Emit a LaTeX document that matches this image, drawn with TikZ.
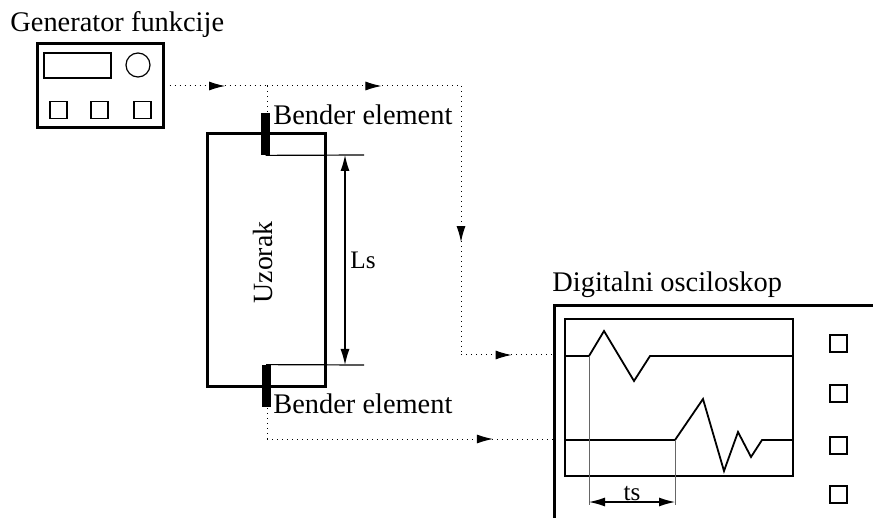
\documentclass[tikz,border=0pt]{standalone}
\usepackage{fontspec}
\setmainfont{Liberation Serif}
\usetikzlibrary{arrows.meta,decorations.markings}

\tikzset{
    label/.style={anchor=base west, inner sep=0pt, font=\fontsize{14.2}{16}\selectfont},
    small/.style={label, font=\fontsize{12.6}{14}\selectfont},
    box/.style={draw, line width=1.5pt, inner sep=0pt, minimum width=#1},
    part/.style={draw, line width=0.6pt, inner sep=0pt},
    btn/.style={part, minimum width=8.5pt, minimum height=8.5pt},
    bender/.style={fill=black, inner sep=0pt, minimum width=4.5pt, minimum height=21pt},
    signal/.style={dotted, line width=0.5pt},
    flow/.style={postaction={decorate}, decoration={markings,
        mark=at position #1 with {\arrow[solid]{Latex[length=8pt,width=4.5pt]}}}},
    dim/.style={line width=0.6pt, {Latex[length=8pt,width=4.5pt]}-{Latex[length=8pt,width=4.5pt]}},
    trace/.style={line width=0.9pt},
    guide/.style={line width=0.4pt, black!60},
}

\begin{document}
\begin{tikzpicture}[x=0.5pt,y=-0.5pt]
    \useasboundingbox (0,0) rectangle (873,518);
    % Nodes
    \node[label] (gentext) at (10,32) {Generator funkcije};
    \node[box=63pt, minimum height=42pt] (generator) at (100,86) {};
    \node[part, minimum width=33.5pt, minimum height=12.5pt] (display) at (77.5,65.5) {};
    \node[part, circle, minimum size=12pt] (knob) at (138,65) {};
    \foreach \x [count=\i] in {58.5,99.5,142.5} {
        \node[btn] (genbtn\i) at (\x,110) {};
    }
    \node[box=59pt, minimum height=126pt] (sample) at (266,260) {};
    \node[rotate=90, anchor=base, inner sep=0pt, font=\fontsize{13.9}{16}\selectfont] (sampletext) at (272.5,262.5) {Uzorak};
    \node[bender] (bendertop) at (265.5,134) {};
    \node[bender] (benderbot) at (266,386) {};
    \node[label] (toptext) at (273,125) {Bender element};
    \node[label] (bottext) at (273,413) {Bender element};
    \node[small] (lstext) at (350,269) {Ls};
    \node[label] (scopetext) at (552,292) {Digitalni osciloskop};
    \node[part, minimum width=114pt, minimum height=78.5pt] (screen) at (679,397.5) {};
    \foreach \y [count=\i] in {343.5,393.5,445.5,494.5} {
        \node[btn] (scopebtn\i) at (838.5,\y) {};
    }
    \node[small, anchor=base] (tstext) at (632,500) {ts};
    % Coordinates
    \coordinate (split) at (267,86);
    \coordinate (corner) at (461,86);
    \coordinate (scopein) at (553,355);
    \coordinate (scopebot) at (553,439);
    \coordinate (start) at (589,356);
    \coordinate (arrival) at (675,440);
    % Scope casing, cut off by the page
    \draw[line width=1.5pt] (554,518) -- (554,306) -- (873,306);
    % Signal lines
    \draw[signal, flow=0.57] ([xshift=2.5pt]generator.east) -- (split);
    \draw[signal, flow=0.59] (split) -- (corner);
    \draw[signal] (split) -- (split |- bendertop.north);
    \draw[signal, flow=0.58] (corner) -- (corner |- scopein);
    \draw[signal, flow=0.55] (corner |- scopein) -- (scopein);
    \draw[signal] ([xshift=0.5pt,yshift=2pt]benderbot.south) -- (split |- scopebot);
    \draw[signal, flow=0.79] (split |- scopebot) -- (scopebot);
    % Length between the benders
    \draw[line width=0.6pt] (bendertop.south) -- (364,155);
    \draw[line width=0.6pt] (benderbot.north) -- (364,365);
    \draw[dim] (345,155) -- (345,365);
    % Traces
    \draw[trace] (screen.west |- start) -- (start) -- (604,331) -- (634,381) -- (650,356) -- (screen.east |- start);
    \draw[trace] (screen.west |- arrival) -- (arrival) -- (703,399) -- (724,471) -- (738,432) -- (751,457) -- (762,440) -- (screen.east |- arrival);
    % Time between the traces
    \draw[guide] (start) -- (589,505);
    \draw[guide] (arrival) -- (675,505);
    \draw[dim] (589,502) -- (675,502);
\end{tikzpicture}
\end{document}
